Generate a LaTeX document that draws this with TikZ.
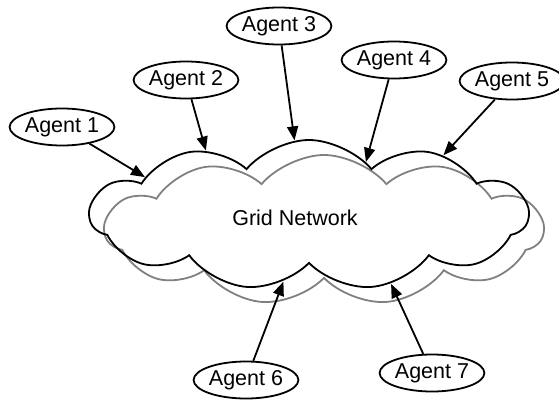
\documentclass[tikz,border=0pt]{standalone}
\usepackage{fontspec}
\setmainfont{Liberation Sans}
\usetikzlibrary{arrows, arrows.meta, positioning, shapes, shapes.geometric, shapes.symbols}

\begin{document}
\begin{tikzpicture}[x=1pt, y=-1pt, >={Triangle[length=14pt, width=11pt]},
        agent/.style={ellipse, draw, line width=1.8pt, minimum width=100pt, minimum height=37pt, inner sep=0pt, font=\fontsize{21.5}{25}\selectfont},
        net/.style={cloud, cloud puffs=11, cloud puff arc=100, cloud ignores aspect, draw, line width=1.8pt, minimum width=438pt, minimum height=150pt, inner sep=0pt},
        link/.style={->, line width=1.8pt}
        ]
        \useasboundingbox (0,0) rectangle (559,399);
        % Nodes
        \node [net, draw=gray] (back) at (324,230) {};
        \node [net] (grid) at (309,215) {};
        \node [font=\fontsize{21.5}{25}\selectfont] (lbl) at (295,218) {Grid Network};

        \node [agent] (a1) at (62,127) {Agent 1};
        \node [agent] (a2) at (186,80) {Agent 2};
        \node [agent] (a3) at (279,26) {Agent 3};
        \node [agent] (a4) at (394,60) {Agent 4};
        \node [agent] (a5) at (512,81) {Agent 5};
        \node [agent] (a6) at (246,380) {Agent 6};
        \node [agent] (a7) at (432,373) {Agent 7};

        % Edges
        \draw[link] (a1) -- (grid.167);
        \draw[link] (a2) -- (grid.148);
        \draw[link] (a3) -- (grid.101);
        \draw[link] (a4) -- (grid.43);
        \draw[link] (a5) -- (grid.24);
        \draw[link] (a6) -- (grid.249);
        \draw[link] (a7) -- (grid.320);
    \end{tikzpicture}
\end{document}
